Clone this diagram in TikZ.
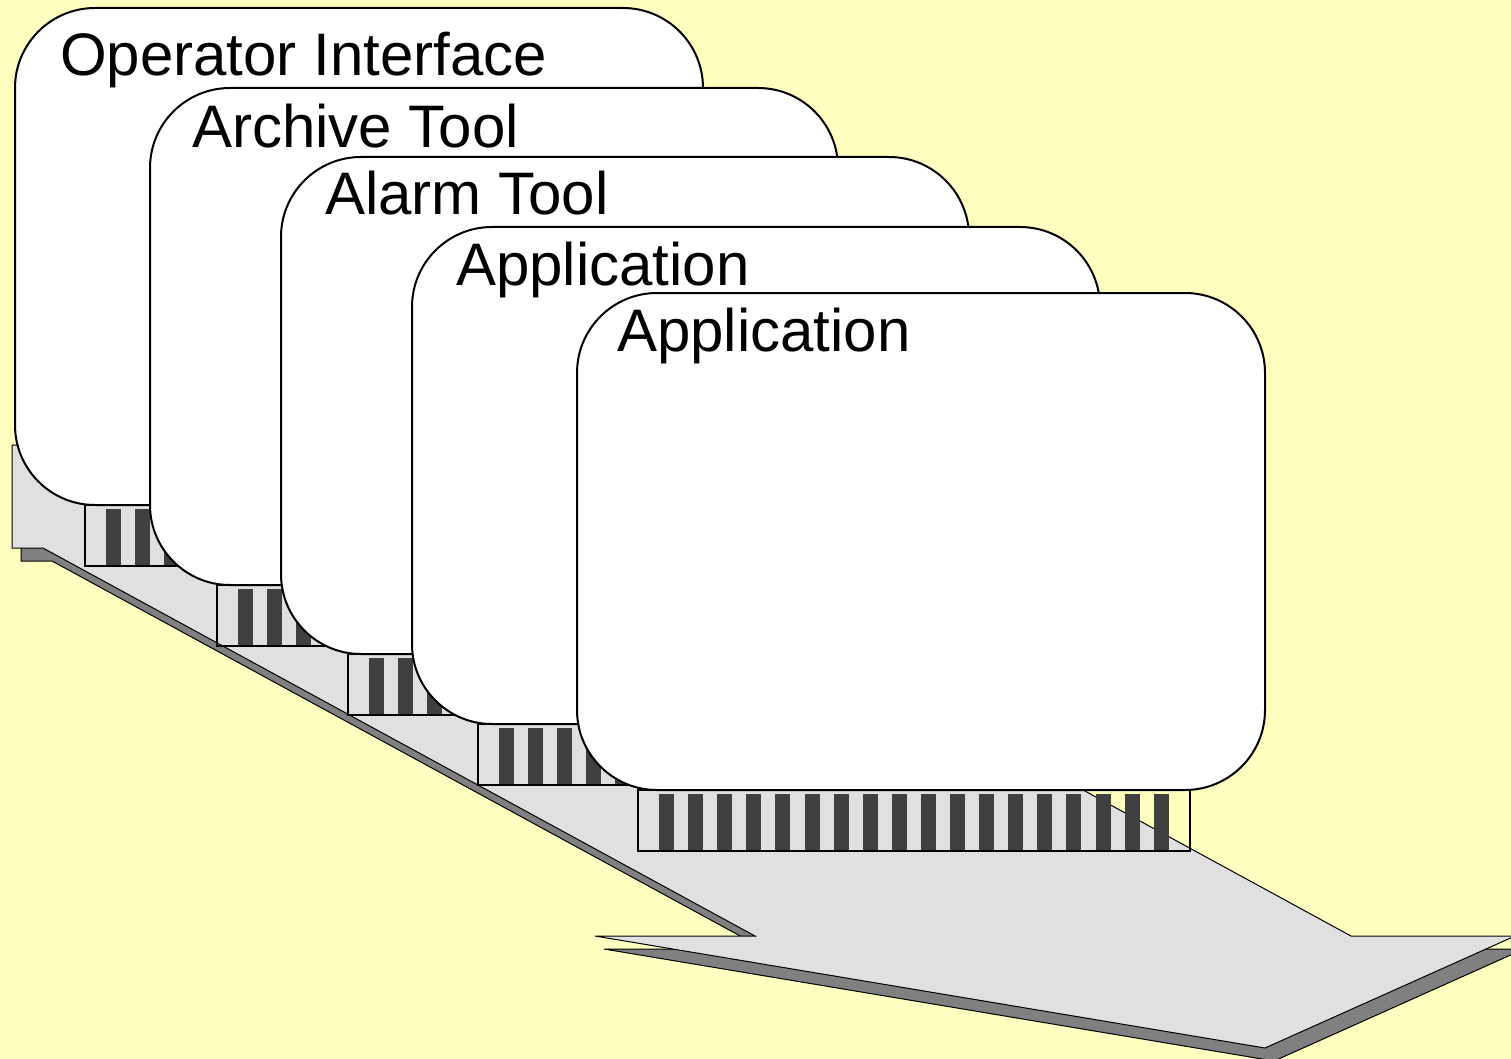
\documentclass[tikz,border=0pt]{standalone}
\usepackage{fontspec}
\setmainfont{Liberation Sans}
\usepackage{xcolor}
\definecolor{paper}{HTML}{FFFFC0}
\definecolor{arrowgray}{HTML}{E0E0E0}
\definecolor{shadowgray}{HTML}{808080}
\definecolor{pin}{HTML}{404040}

\begin{document}
\begin{tikzpicture}[x=1pt, y=-1pt,
	card/.style={draw=black, line width=2pt, fill=white, rounded corners=80pt},
	plug/.style={draw=black, line width=1.5pt},
	pins/.style={fill=pin},
	title/.style={anchor=base west, inner sep=0pt, font=\fontsize{60}{63}\selectfont}]
	\fill[paper] (0,0) rectangle (1511,1059); %background
	\useasboundingbox (0,0) rectangle (1511,1059);
	%
	% big arrow -- shadow first, then body
	\draw[fill=shadowgray, line width=1pt] (21,458) -- (459,458) -- (1360,949) -- (1524,949) -- (1274,1061) -- (604,949) -- (764,949) -- (52,561) -- (21,561) -- cycle;
	\draw[fill=arrowgray, line width=1pt] (12,445) -- (450,445) -- (1351,936) -- (1515,936) -- (1265,1048) -- (595,936) -- (755,936) -- (43,548) -- (12,548) -- cycle;
	%
	% plugs with pins
	\foreach \sx/\sy in {85/505, 217/585, 348/654, 478/724, 638/790}{
		\foreach \i in {0,...,17}
			\fill[pins] (\sx+21+29.1*\i, \sy+4) rectangle ++(15,57);
		\draw[plug] (\sx,\sy) rectangle ++(552,61);
	}
	%
	% cards
	\draw[card] (15,8) rectangle ++(688,497);
	\node[title] (oi) at (60,76) {Operator Interface};
	%
	\draw[card] (150,88) rectangle ++(688,497);
	\node[title] (arch) at (192,148) {Archive Tool};
	%
	\draw[card] (281,157) rectangle ++(688,497);
	\node[title] (alarm) at (325,215) {Alarm Tool};
	%
	\draw[card] (412,227) rectangle ++(688,497);
	\node[title] (appa) at (456,285) {Application};
	%
	\draw[card] (577,293) rectangle ++(688,497);
	\node[title] (appb) at (617,351) {Application};
\end{tikzpicture}
\end{document}
